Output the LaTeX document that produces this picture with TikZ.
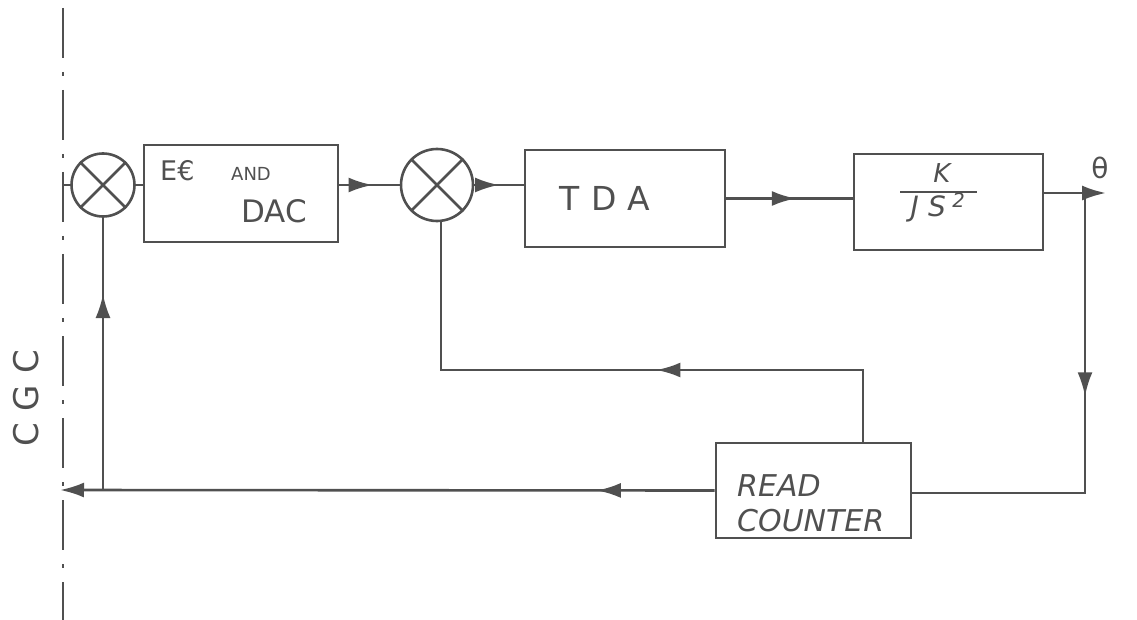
\documentclass[tikz,border=0pt]{standalone}
\usepackage{fontspec}
\setmainfont{DejaVu Sans}
\usetikzlibrary{arrows.meta,decorations.markings}
\definecolor{ink}{HTML}{505050}
\tikzset{
  blk/.style={draw=ink, rectangle, line width=2.6pt, inner sep=0pt},
  sumj/.style={draw=ink, circle, line width=2.6pt, inner sep=0pt, minimum size=#1},
  wire/.style={draw=ink, line width=2.6pt},
  tip/.style={-{Latex[length=24pt,width=15pt]}},
  marr/.style={postaction={decorate}, decoration={markings, mark=at position #1 with {\arrow{Latex[length=24pt,width=15pt]}}}},
  lbl/.style={text=ink, inner sep=0pt, font=\fontsize{25}{30}\selectfont},
}
\begin{document}
\begin{tikzpicture}[x=1pt,y=-1pt]
\useasboundingbox (0,0) rectangle (1137,620);
% vertical dash-dot boundary
\draw[ink, line width=2pt, dash pattern=on 50pt off 14pt on 4pt off 14pt, dash phase=-8pt] (63,0) -- (63,620);
% CGC label
\node[lbl, rotate=90, font=\fontsize{34}{40}\selectfont] (cgc) at (26,398) {C\,\,G\,\,C};
% summing junctions
\node[sumj=63pt] (s1) at (103,185) {};
\draw[ink, line width=2.6pt] (s1.north west) -- (s1.south east) (s1.south west) -- (s1.north east);
\node[sumj=72pt] (s2) at (437,185) {};
\draw[ink, line width=2.6pt] (s2.north west) -- (s2.south east) (s2.south west) -- (s2.north east);
% blocks
\node[blk, minimum width=194pt, minimum height=97pt] (b1) at (241,193.5) {};
\node[lbl, anchor=west, font=\fontsize{27}{30}\selectfont] (ee) at (160,171) {E€};
\node[lbl, anchor=west, font=\fontsize{18}{22}\selectfont] (and) at (231,174) {AND};
\node[lbl, anchor=west, font=\fontsize{31}{36}\selectfont] (dac) at (241,211) {DAC};
\node[blk, minimum width=200pt, minimum height=97pt] (b2) at (625,198.5) {};
\node[lbl, font=\fontsize{33}{38}\selectfont] (tda) at (605,198) {T\,\,D\,\,A};
\node[blk, minimum width=189pt, minimum height=96pt] (b3) at (948.5,202) {};
\node[lbl, font=\itshape\fontsize{26}{30}\selectfont] (k) at (942,173) {K};
\draw[wire] (900,192) -- (977,192);
\node[lbl, font=\itshape\fontsize{28}{32}\selectfont] (js) at (938,208) {J\,\,S\textsuperscript{\,\,2}};
\node[blk, minimum width=195pt, minimum height=95pt] (rc) at (813.5,490.5) {};
\node[lbl, anchor=west, font=\itshape\fontsize{30}{34}\selectfont] (read) at (737,486) {READ};
\node[lbl, anchor=west, font=\itshape\fontsize{30}{34}\selectfont] (cnt) at (737,521) {COUNTER};
% output label
\node[lbl, font=\fontsize{28}{32}\selectfont] (th) at (1100,168) {θ};
% coordinates
\coordinate (in) at (62,185);
\coordinate (out) at (1106,193);
\coordinate (tap) at (1085,193);
\coordinate (rb) at (1085,493);
\coordinate (lb) at (60,490);
\coordinate (j1) at (103,490);
\coordinate (rt) at (863,443);
\coordinate (m1) at (863,370);
\coordinate (m2) at (441,370);
% forward path
\draw[wire] (in) -- (s1.west);
\draw[wire] (s1.east) -- (b1.west |- s1.east);
\draw[wire, marr=0.55] (b1.east |- s2.west) -- (s2.west);
\draw[wire, marr=0.5] (s2.east) -- (b2.west |- s2.east);
\draw[wire, marr=0.55] (b2.east) -- (b3.west |- b2.east);
\draw[wire, tip] (b3.east |- out) -- (out);
% feedback paths
\draw[wire, marr=0.43] (tap) -- (rb) -- (rc.east |- rb);
\draw[wire, marr=0.435] (rt) -- (m1) -- (m2) -- (m2 |- s2.south);
\draw[wire, tip, marr=0.18] (rc.west) -- (lb);
\draw[wire, marr=0.72] (j1) -- (s1.south);
\end{tikzpicture}
\end{document}
